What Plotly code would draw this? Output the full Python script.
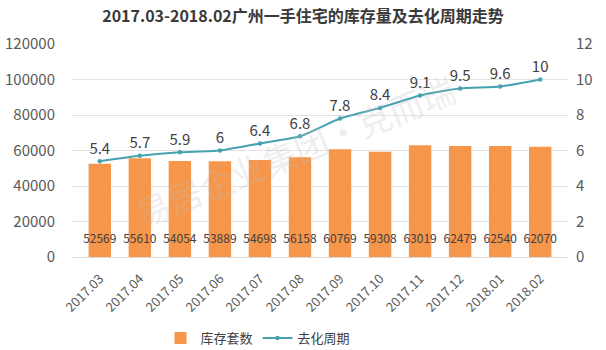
import plotly.graph_objects as go

months = ["2017.03", "2017.04", "2017.05", "2017.06", "2017.07", "2017.08",
          "2017.09", "2017.10", "2017.11", "2017.12", "2018.01", "2018.02"]
inventory = [52569, 55610, 54054, 53889, 54698, 56158,
             60769, 59308, 63019, 62479, 62540, 62070]
cycle = [5.4, 5.7, 5.9, 6, 6.4, 6.8, 7.8, 8.4, 9.1, 9.5, 9.6, 10]

left_ticks = [0, 20000, 40000, 60000, 80000, 100000, 120000]
right_ticks = [0, 2, 4, 6, 8, 10, 12]

FONT = "Noto Sans CJK SC"
TXT = "#404040"
ORANGE = "#F5964A"
TEAL = "#46A2B0"

fig = go.Figure()

fig.add_trace(go.Bar(
    x=months, y=inventory, name="库存套数",
    marker=dict(color=ORANGE, line=dict(width=0)),
))

# inventory counts written near the bottom of each bar
fig.add_trace(go.Scatter(
    x=months, y=[9600] * len(months), mode="text",
    text=[str(v) for v in inventory], textposition="middle center",
    textfont=dict(family=FONT, size=12, color=TXT),
    showlegend=False, hoverinfo="skip",
))

fig.add_trace(go.Scatter(
    x=months, y=cycle, name="去化周期", yaxis="y2",
    mode="lines+markers+text",
    line=dict(color=TEAL, width=2, shape="spline", smoothing=0.5),
    marker=dict(color=TEAL, size=4.5),
    text=[f"{v:g}" for v in cycle], textposition="top center",
    textfont=dict(family=FONT, size=15, color=TXT),
))

fig.add_annotation(
    text="易居企业集团·克而瑞", xref="paper", yref="paper",
    x=0.45, y=0.5, showarrow=False, textangle=-22,
    font=dict(family=FONT, size=34, color="rgba(190,190,190,0.25)"),
)

fig.update_layout(
    width=606, height=350,
    margin=dict(l=72, r=38, t=44, b=93, autoexpand=False),
    paper_bgcolor="white", plot_bgcolor="white",
    font=dict(family=FONT, color=TXT),
    title=dict(text="<b>2017.03-2018.02广州一手住宅的库存量及去化周期走势</b>",
               x=0.5, xanchor="center", y=0.952, yanchor="middle",
               font=dict(family=FONT, size=16, color="#3a3a3a")),
    bargap=0.44,
    xaxis=dict(
        tickangle=-45, tickfont=dict(family=FONT, size=13, color="#595959"),
        showgrid=False, showline=True, linecolor="#d9d9d9", ticks="",
        automargin=False, ticklabelstandoff=8,
    ),
    yaxis=dict(
        range=[0, 120000], tickvals=left_ticks, tickformat="d",
        tickfont=dict(family=FONT, size=15, color="#595959"),
        showgrid=True, gridcolor="#e3e3e3", zeroline=False, ticks="",
        automargin=False, ticklabelstandoff=16,
    ),
    yaxis2=dict(
        range=[0, 12], tickvals=right_ticks, overlaying="y", side="right",
        tickfont=dict(family=FONT, size=15, color="#595959"),
        showgrid=False, zeroline=False, ticks="", automargin=False,
        ticklabelstandoff=7,
    ),
    legend=dict(orientation="h", x=0.375, xanchor="center", y=-0.38, yanchor="middle",
                itemwidth=30, tracegroupgap=0,
                font=dict(family=FONT, size=13, color="#404040")),
    showlegend=True,
)

fig.write_html("out.html")
